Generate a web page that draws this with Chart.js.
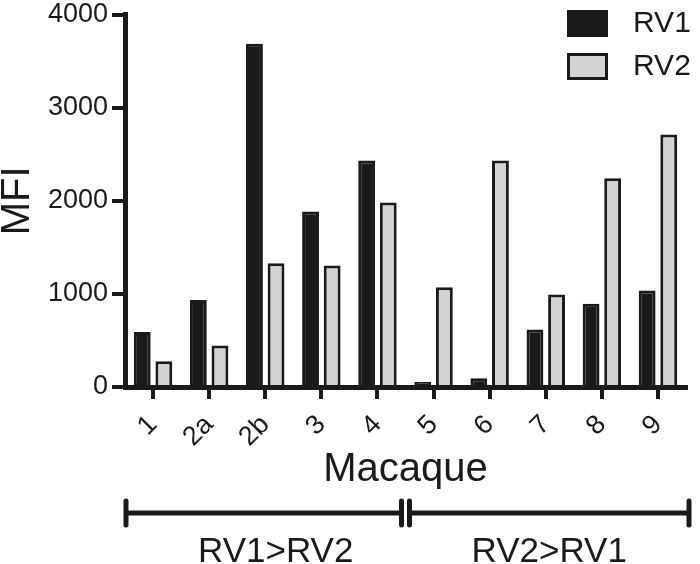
<!DOCTYPE html>
<html>
<head>
<meta charset="utf-8">
<script src="https://cdn.jsdelivr.net/npm/chart.js@4/dist/chart.umd.min.js"></script>
<style>
  html, body { margin: 0; padding: 0; background: #fff; }
  #wrap { width: 700px; height: 564px; }
</style>
</head>
<body>
<div id="wrap"><canvas id="myChart" width="700" height="564"></canvas></div>
<script>
// Data
const macaques = ['1', '2a', '2b', '3', '4', '5', '6', '7', '8', '9'];
const rv1 = [590, 935, 3690, 1886, 2435, 55, 95, 617, 895, 1037];
const rv2 = [278, 446, 1330, 1305, 1982, 1073, 2435, 995, 2243, 2713];
const yTicks = [0, 1000, 2000, 3000, 4000];
// groups shown under the axis: label and first/last macaque index
const groupLabels = ['RV1>RV2', 'RV2>RV1'];
const groupStart = [0, 5];
const groupEnd = [4, 9];

const ink = '#1a1a1a';
const fontFam = 'Arial, "Liberation Sans", sans-serif';

// draws the legend (top right) and the group brackets under the x axis
const extras = {
    id: 'extras',
    afterDraw(chart) {
        const ctx = chart.ctx;
        const area = chart.chartArea;
        const x = chart.scales.x;
        ctx.save();

        // legend
        chart.data.datasets.forEach((ds, i) => {
            const bx = area.right - 119;
            const by = 10 + i * 43;
            ctx.fillStyle = ds.backgroundColor;
            ctx.fillRect(bx, by, 41, 27);
            ctx.lineWidth = 3;
            ctx.strokeStyle = ink;
            ctx.strokeRect(bx + 1.5, by + 1.5, 38, 24);
            ctx.fillStyle = ink;
            ctx.font = '30px ' + fontFam;
            ctx.textBaseline = 'middle';
            ctx.textAlign = 'left';
            ctx.fillText(ds.label, bx + 66, by + 14);
        });

        // brackets
        const half = (x.getPixelForValue(1) - x.getPixelForValue(0)) / 2;
        const ly = 513;
        ctx.strokeStyle = ink;
        ctx.lineWidth = 5;
        ctx.lineCap = 'round';
        groupLabels.forEach((lab, i) => {
            let x1 = x.getPixelForValue(groupStart[i]) - half;
            let x2 = x.getPixelForValue(groupEnd[i]) + half;
            if (i > 0) x1 += 4; else x1 += 1;
            if (i < groupLabels.length - 1) x2 -= 4; else x2 += 3;
            ctx.beginPath();
            ctx.moveTo(x1, ly); ctx.lineTo(x2, ly);
            ctx.moveTo(x1, ly - 12); ctx.lineTo(x1, ly + 12);
            ctx.moveTo(x2, ly - 12); ctx.lineTo(x2, ly + 12);
            ctx.stroke();
            ctx.fillStyle = ink;
            ctx.font = '35px ' + fontFam;
            ctx.textAlign = 'center';
            ctx.textBaseline = 'alphabetic';
            ctx.fillText(lab, (x1 + x2) / 2 + (i === 0 ? 12 : 0), 562);
        });
        ctx.restore();
    }
};

const ctx = document.getElementById('myChart').getContext('2d');
const myChart = new Chart(ctx, {
    type: 'bar',
    data: {
        labels: macaques,
        datasets: [{
            label: 'RV1',
            data: rv1,
            backgroundColor: ink,
            borderColor: ink,
            borderWidth: 3,
            categoryPercentage: 0.77,
            barPercentage: 0.78
        }, {
            label: 'RV2',
            data: rv2,
            backgroundColor: '#d3d3d3',
            borderColor: ink,
            borderWidth: 3,
            categoryPercentage: 0.77,
            barPercentage: 0.78
        }]
    },
    options: {
        responsive: false,
        animation: false,
        layout: {
            padding: { left: 0, right: 14, top: 9, bottom: 67 }
        },
        plugins: {
            legend: { display: false },
            tooltip: { enabled: false }
        },
        scales: {
            x: {
                afterFit: (scale) => { scale.height = 110; },
                grid: {
                    display: true,
                    drawOnChartArea: false,
                    offset: false,
                    tickLength: 12,
                    lineWidth: 4,
                    color: ink
                },
                border: { display: true, width: 5, color: ink },
                ticks: {
                    minRotation: 45,
                    maxRotation: 45,
                    padding: 10,
                    color: ink,
                    font: { family: fontFam, size: 27 }
                },
                title: {
                    display: true,
                    text: 'Macaque',
                    color: ink,
                    padding: { top: 0, bottom: 7 },
                    font: { family: fontFam, size: 40, lineHeight: 1 }
                }
            },
            y: {
                min: 0,
                max: 4000,
                afterFit: (scale) => { scale.width = 125; },
                afterBuildTicks: (scale) => {
                    scale.ticks = yTicks.map((v) => ({ value: v }));
                },
                grid: {
                    display: true,
                    drawOnChartArea: false,
                    tickLength: 13,
                    lineWidth: 4,
                    color: ink
                },
                border: { display: true, width: 5, color: ink },
                ticks: {
                    padding: 4,
                    color: ink,
                    font: { family: fontFam, size: 27, lineHeight: 0.8 },
                    callback: (v) => String(v)
                },
                title: {
                    display: true,
                    text: 'MFI',
                    color: ink,
                    padding: 0,
                    font: { family: fontFam, size: 40, lineHeight: 0.9 }
                }
            }
        }
    },
    plugins: [extras]
});
</script>
</body>
</html>
